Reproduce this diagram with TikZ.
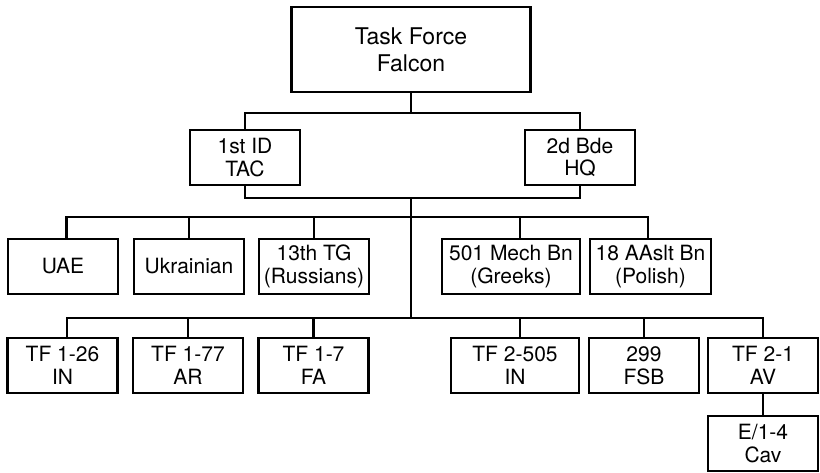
\documentclass[tikz,border=0pt]{standalone}
\usepackage{fontspec}
\setmainfont{TeX Gyre Heros}
\usepackage{tikz}

\begin{document}
\begin{tikzpicture}[
  x=1pt, y=-1pt,
  unit/.style={draw, line width=2.6pt, inner sep=0pt, align=center,
               minimum width=110pt, minimum height=55pt,
               font=\fontsize{21}{22.5}\selectfont},
  topunit/.style={unit, minimum width=239pt, minimum height=85pt,
                  font=\fontsize{23}{27}\selectfont},
  link/.style={line width=2.6pt}
]
\useasboundingbox (0,0) rectangle (820,473);

% Headquarters
\node[topunit] (tff) at (411,49.5) {Task Force\\Falcon};
\node[unit] (tac) at (245,157.5) {1st ID\\TAC};
\node[unit] (bde) at (580,157.5) {2d Bde\\HQ};

% Attached coalition units
\node[unit] (uae) at (63,266.5) {UAE};
\node[unit] (ukr) at (189,266.5) {Ukrainian};
\node[unit] (rus) at (314,266.5) {13th TG\\(Russians)};
\node[unit, minimum width=138pt] (grk) at (511,266.5) {501 Mech Bn\\(Greeks)};
\node[unit, minimum width=121pt] (pol) at (650.5,266.5) {18 AAslt Bn\\(Polish)};

% Task forces
\node[unit] (tfin) at (62.5,365.5) {TF 1-26\\IN};
\node[unit] (tfar) at (188,365.5) {TF 1-77\\AR};
\node[unit] (tffa) at (313.5,365.5) {TF 1-7\\FA};
\node[unit, minimum width=128pt] (tfmech) at (515,365.5) {TF 2-505\\IN};
\node[unit] (fsb) at (644,365.5) {299\\FSB};
\node[unit] (tfav) at (763,365.5) {TF 2-1\\AV};
\node[unit] (cav) at (763,443.5) {E/1-4\\Cav};

% Bus lines
\coordinate (bus0) at (411,113);
\coordinate (bus1) at (411,198);
\coordinate (bus2) at (411,217);
\coordinate (bus3) at (411,318);

% Command links
\draw[link] (tff.south) -- (bus0);
\draw[link] (tac.north) |- (bus0) -| (bde.north);
\draw[link] (tac.south) |- (bus1) -| (bde.south);
\draw[link] (bus1) -- (bus3);

% Coalition row
\draw[link] ([xshift=3.5pt]uae.north) |- (bus2) -| ([xshift=-2.5pt]pol.north);
\foreach \n/\s in {ukr/0, rus/0, grk/9}
  \draw[link] ([xshift=\s pt]\n.north) -- ([xshift=\s pt]\n.north |- bus2);

% Task force row
\draw[link] ([xshift=4.5pt]tfin.north) |- (bus3) -| (tfav.north);
\foreach \n/\s in {tfar/0, tffa/0, tfmech/5, fsb/0}
  \draw[link] ([xshift=\s pt]\n.north) -- ([xshift=\s pt]\n.north |- bus3);
\draw[link] (tfav) -- (cav);

\end{tikzpicture}
\end{document}
